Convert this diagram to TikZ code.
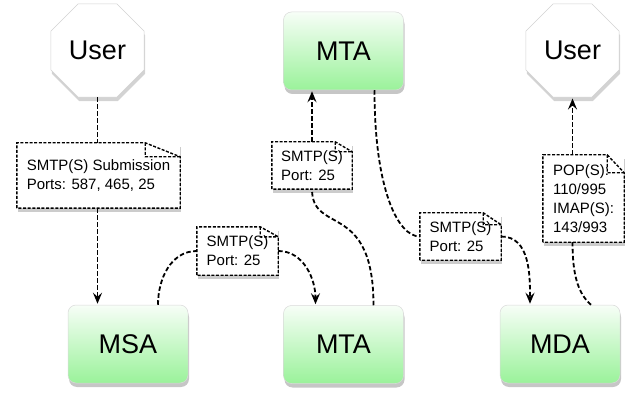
\documentclass[tikz,border=0pt]{standalone}
\usepackage{fontspec}
\setmainfont{Liberation Sans}
\usetikzlibrary{shapes.geometric,shadows,arrows.meta}
\definecolor{mint}{HTML}{9AF29A}
\tikzstyle{oct}=[regular polygon, regular polygon sides=8, minimum size=101pt, inner sep=0pt,
    fill=white, draw=gray!35, line width=.6pt, font=\fontsize{27}{30}\selectfont,
    drop shadow={shadow xshift=1pt, shadow yshift=-4pt, opacity=.35}]
\tikzstyle{agent}=[rectangle, rounded corners=8pt, minimum width=120pt, minimum height=78pt,
    top color=mint!8!white, bottom color=mint, draw=gray!30, line width=.5pt,
    font=\fontsize{27}{30}\selectfont,
    drop shadow={shadow xshift=1pt, shadow yshift=-4pt, opacity=.45}]
\tikzstyle{memo}=[rectangle, fill=white, align=left, inner sep=0pt,
    font=\fontsize{15}{19}\selectfont,
    drop shadow={shadow xshift=1pt, shadow yshift=-4pt, opacity=.4}]
\tikzstyle{memoline}=[line width=1.4pt, dash pattern=on 3pt off 1.6pt]
\tikzstyle{link}=[line width=1.8pt, dash pattern=on 4.5pt off 2.5pt]
\tikzstyle{to}=[link, -{Stealth[length=11pt, width=9pt, inset=4pt]}, shorten >=1pt]

\begin{document}
\begin{tikzpicture}[x=1pt, y=-1pt]
    \useasboundingbox (0, 0) rectangle (627, 393);
            % top row
            \node[oct] (userL) at (97.5, 50.5) {User}
            ;
            \node[agent] (mtaT) at (343.5, 51) {MTA}
            ;
            \node[oct] (userR) at (572.5, 50.5) {User}
            ;
            % bottom row
            \node[agent] (msa) at (128, 344) {MSA}
            ;
            \node[agent] (mtaB) at (343.5, 344.5) {MTA}
            ;
            \node[agent] (mda) at (560, 344) {MDA}
            ;
            % port notes
            \node[memo, minimum width=163pt, minimum height=65pt] (sub) at (98.5, 175.5)
                {SMTP(S) Submission\\Ports: 587, 465, 25}
            ;
            \node[memo, minimum width=81pt, minimum height=48pt] (relayA) at (237.5, 251)
                {SMTP(S)\\Port: 25}
            ;
            \node[memo, minimum width=80pt, minimum height=47pt] (relayUp) at (312, 165.5)
                {SMTP(S)\\Port: 25}
            ;
            \node[memo, minimum width=81pt, minimum height=47pt] (relayB) at (460.5, 236.5)
                {SMTP(S)\\Port: 25}
            ;
            \node[memo, minimum width=81pt, minimum height=87pt] (pop) at (583.5, 198.5)
                {POP(S):\\110/995\\IMAP(S):\\143/993}
            ;
            \foreach \m/\fw/\fh in {sub/35/14, relayA/18/10, relayUp/17/10, relayB/18/12, pop/17/18}
                \draw[memoline] (\m.south west) -- (\m.north west)
                    -- ([xshift=-\fw pt]\m.north east) -- ([yshift=-\fh pt]\m.north east)
                    -- (\m.south east) -- cycle
                    ([xshift=-\fw pt]\m.north east) |- ([yshift=-\fh pt]\m.north east);
            % submission
            \draw[link] (userL.south) -- (userL.south |- sub.north);
            \draw[to] (userL.south |- sub.south) -- (userL.south |- msa.north);
            % relay msa -> mta
            \draw[link] ([xshift=30pt]msa.north) to[out=90, in=180] (relayA.west);
            \draw[to] (relayA.east) to[out=0, in=90] ([xshift=-28pt]mtaB.north);
            % relay mta -> mta
            \draw[link] ([xshift=30pt]mtaB.north) .. controls +(0, -105) and +(0, 46) .. (relayUp.south);
            \draw[to] (relayUp.north) -- (relayUp.north |- mtaT.south);
            % relay mta -> mda
            \draw[link] ([xshift=31pt]mtaT.south) .. controls +(0, 99) and +(-22, 0) .. (relayB.west);
            \draw[to] (relayB.east) to[out=0, in=90] ([xshift=-30pt]mda.north);
            % delivery to user
            \draw[link] ([xshift=31pt]mda.north) .. controls +(-14, -12) and +(0, 30) .. (userR.south |- pop.south);
            \draw[to] (userR.south |- pop.north) -- (userR.south);
\end{tikzpicture}
\end{document}
